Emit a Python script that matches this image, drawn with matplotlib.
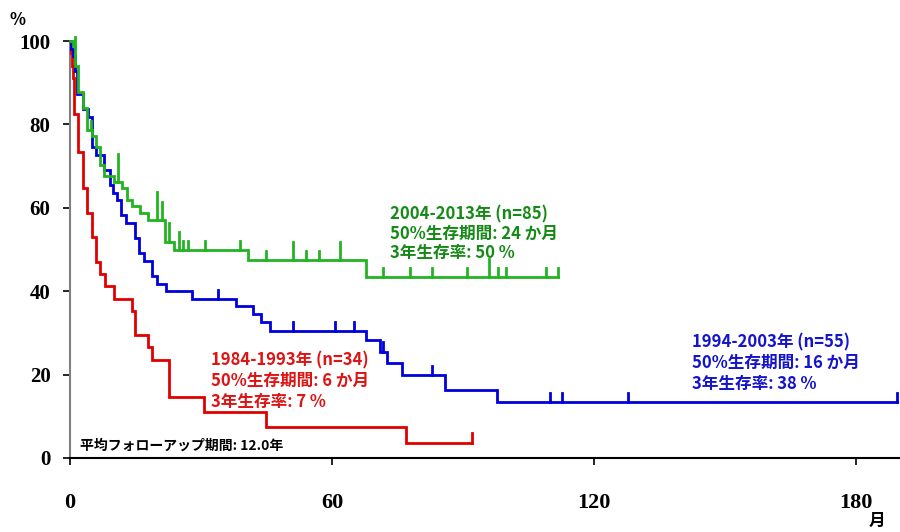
import matplotlib
matplotlib.use("Agg")
import matplotlib.pyplot as plt

plt.rcParams['font.family'] = ['Noto Sans CJK JP', 'DejaVu Sans']

# Kaplan-Meier steps (months, survival %)
red_t = [0, 0.2, 0.4, 0.6, 0.9, 1.9, 3.0, 3.9, 5.0, 6.0, 6.9, 8.1, 10.0, 14.1,
         14.8, 17.9, 18.8, 22.7, 30.7, 44.8, 76.9]
red_s = [100, 97.1, 94.1, 91.2, 82.4, 73.5, 64.7, 58.8, 52.9, 47.1, 44.1, 41.2,
         38.2, 35.3, 29.4, 26.5, 23.5, 14.7, 11.1, 7.4, 3.7]
red_end = 92.0
red_cens = [92.0]
red_cens_n = [1]

blue_t = [0, 0.3, 0.6, 1.1, 1.2, 1.6, 2.9, 4.1, 5.0, 5.95, 7.85, 9.05, 9.85,
          10.8, 11.7, 12.9, 14.9, 15.9, 16.95, 18.8, 19.9, 22.0, 27.9, 37.9,
          41.8, 43.7, 45.8, 67.7, 71.0, 72.5, 76.0, 85.9, 97.7]
blue_s = [100, 98.2, 96.4, 94.5, 92.7, 87.3, 83.6, 81.8, 74.5, 72.7, 69.1,
          65.5, 63.6, 61.8, 58.2, 56.4, 52.7, 49.1, 47.3, 43.6, 41.8, 40.0,
          38.2, 36.4, 34.5, 32.6, 30.5, 28.3, 25.5, 22.7, 19.9, 16.3, 13.5]
blue_end = 189.3
blue_cens = [33.9, 51.0, 60.7, 64.9, 71.7, 82.8, 109.9, 112.6, 127.7, 189.3]
blue_cens_n = [1, 1, 1, 1, 1, 1, 1, 1, 1, 1]

green_t = [0, 0.7, 1.2, 1.83, 2.9, 3.9, 5.0, 5.95, 6.9, 7.85, 10.0, 12.0,
           13.05, 14.1, 16.1, 17.9, 21.8, 23.7, 40.8, 67.8]
green_s = [100, 98.8, 94.1, 87.7, 84.0, 78.6, 77.2, 74.6, 70.3, 67.6, 66.2,
           64.7, 61.9, 60.4, 58.7, 57.1, 51.9, 49.9, 47.4, 43.3]
green_end = 111.8
green_cens = [1.1, 4.8, 11.0, 19.9, 20.95, 22.7, 25.0, 25.9, 26.9, 30.8, 38.8,
              44.9, 51.0, 54.0, 56.9, 61.9, 71.7, 77.9, 82.8, 90.8, 95.8, 97.9,
              99.8, 109.0, 111.8]
green_cens_n = [1, 1, 3, 3, 2, 2, 2, 1, 1, 1, 1, 1, 2, 1, 1, 2, 1, 1, 1, 1, 2,
                1, 1, 1, 1]

red_lines = ["1984-1993年 (n=34)", "50%生存期間: 6 か月", "3年生存率: 7 %"]
blue_lines = ["1994-2003年 (n=55)", "50%生存期間: 16 か月", "3年生存率: 38 %"]
green_lines = ["2004-2013年 (n=85)", "50%生存期間: 24 か月", "3年生存率: 50 %"]
note = "平均フォローアップ期間: 12.0年"

x_ticks = [0, 60, 120, 180]
y_ticks = [0, 20, 40, 60, 80, 100]


def level_at(t, s, x):
    val = s[0]
    for ti, si in zip(t, s):
        if ti <= x:
            val = si
    return val


def draw_curve(ax, t, s, end, cens, cens_n, color):
    xs = list(t) + [end]
    ys = list(s) + [s[-1]]
    ax.step(xs, ys, where='post', color=color, lw=2.0, clip_on=False,
            solid_joinstyle='miter', zorder=3)
    for c, n in zip(cens, cens_n):
        y0 = level_at(t, s, c)
        ax.plot([c, c], [y0, y0 + 2.2 * n], color=color, lw=2.0,
                clip_on=False, zorder=3)


fig = plt.figure(figsize=(9, 5.32), dpi=100)
ax = fig.add_axes([0.0778, 0.1391, 0.9222, 0.7838])

draw_curve(ax, red_t, red_s, red_end, red_cens, red_cens_n, '#e00000')
draw_curve(ax, blue_t, blue_s, blue_end, blue_cens, blue_cens_n, '#0000dd')
draw_curve(ax, green_t, green_s, green_end, green_cens, green_cens_n, '#22b422')

ax.set_xlim(0, 190)
ax.set_ylim(0, 100)
ax.set_xticks(x_ticks)
ax.set_yticks(y_ticks)
ax.set_xticklabels([str(v) for v in x_ticks], family='Liberation Serif',
                   fontweight='bold', fontsize=16)
ax.set_yticklabels([str(v) for v in y_ticks], family='Liberation Serif',
                   fontweight='bold', fontsize=15)
ax.tick_params(axis='x', direction='out', length=5, width=1.2, pad=20,
               color='black')
ax.tick_params(axis='y', direction='out', length=5, width=1.2, pad=9,
               color='black')

for side in ['top', 'right']:
    ax.spines[side].set_visible(False)
ax.spines['left'].set_color('#808080')
ax.spines['left'].set_linewidth(1.5)
ax.spines['bottom'].set_color('black')
ax.spines['bottom'].set_linewidth(1.5)

for i, line in enumerate(green_lines):
    ax.text(73.3, 58.5 - 4.7 * i, line, color='#168a16', fontsize=12,
            fontweight='bold', va='center', ha='left')
for i, line in enumerate(blue_lines):
    ax.text(142.4, 27.6 - 4.9 * i, line, color='#1414cc', fontsize=12,
            fontweight='bold', va='center', ha='left')
for i, line in enumerate(red_lines):
    ax.text(32.3, 23.3 - 4.9 * i, line, color='#dd1414', fontsize=12,
            fontweight='bold', va='center', ha='left')
ax.text(2.3, 2.9, note, color='black', fontsize=10, fontweight='bold',
        va='center', ha='left')

fig.text(18 / 900, 1 - 20 / 532, '%', fontsize=12, fontweight='bold',
         ha='center', va='center')
fig.text(877 / 900, 1 - 521 / 532, '月', fontsize=12, fontweight='bold',
         ha='center', va='center')

fig.savefig('out.png', dpi=100)
